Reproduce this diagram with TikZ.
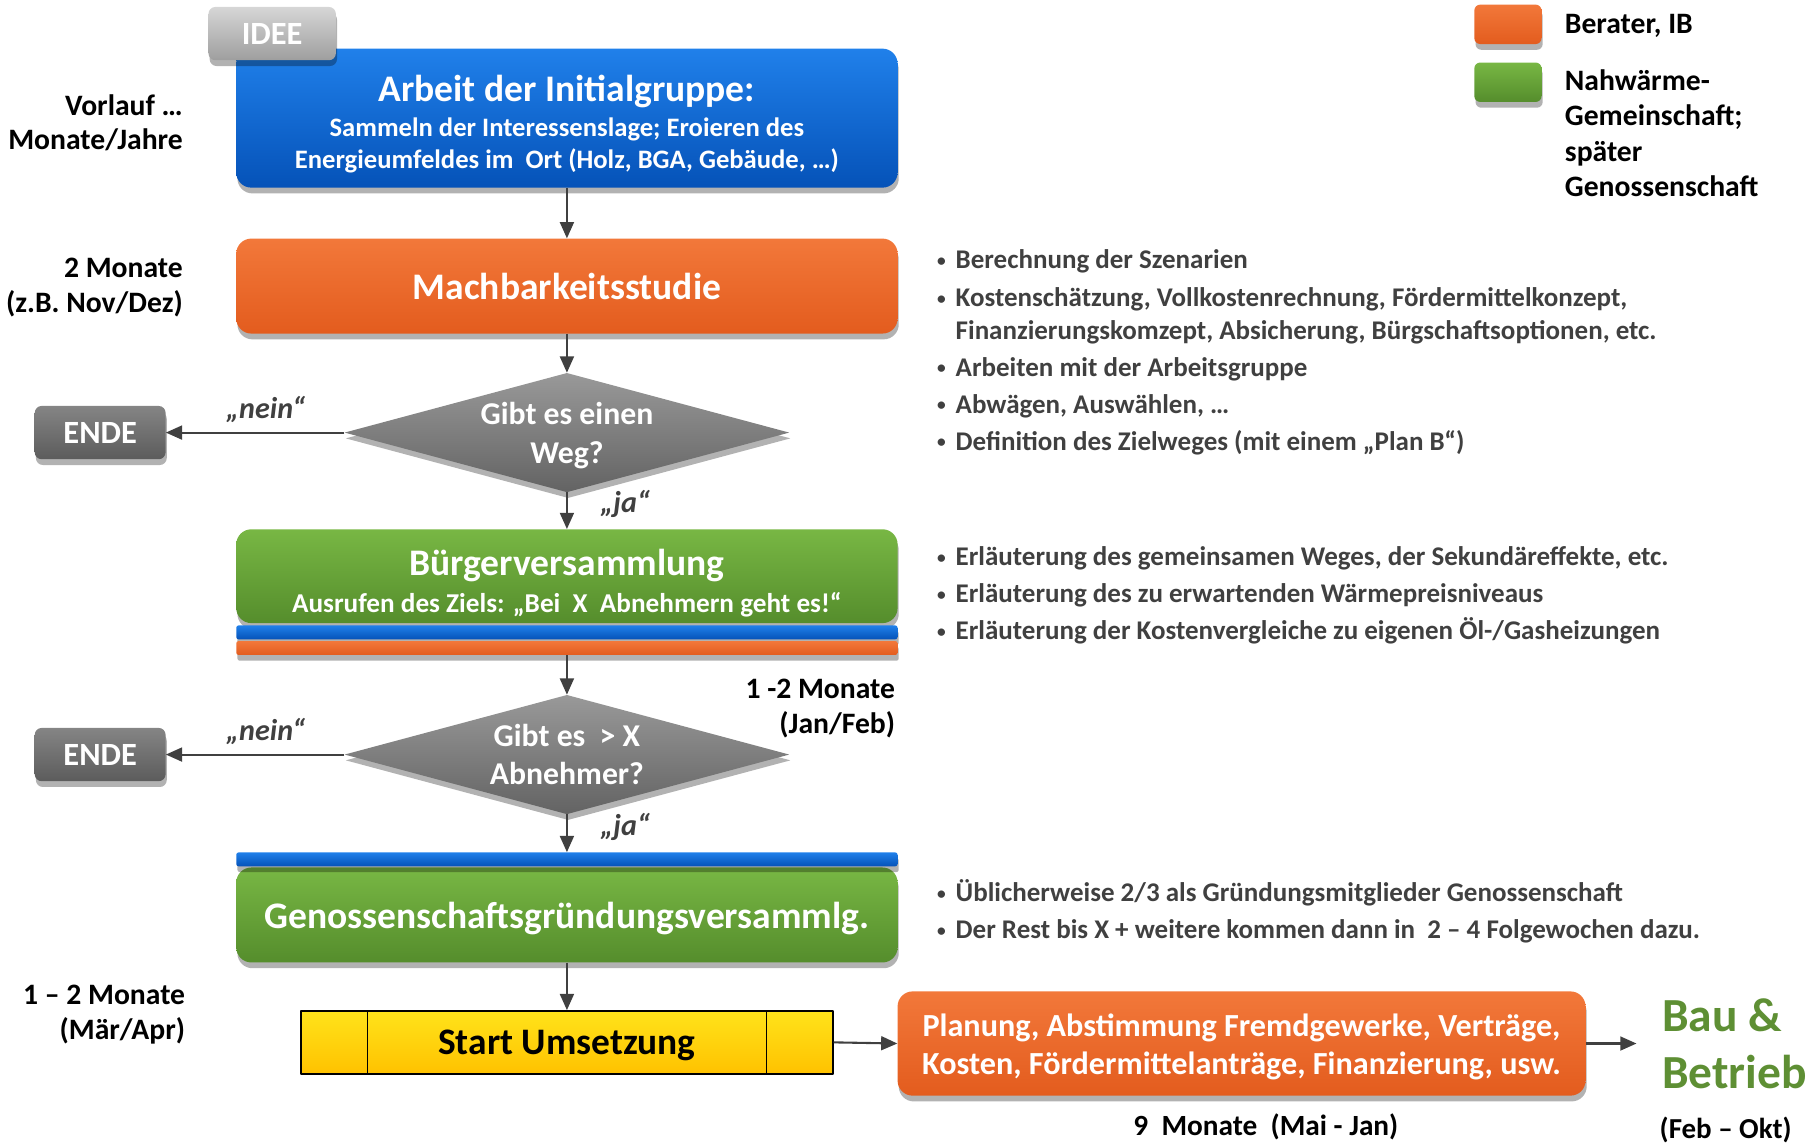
\documentclass[tikz,border=0pt]{standalone}
\usepackage{fontspec}
\setmainfont{Carlito}
\usetikzlibrary{positioning,shapes.geometric,arrows.meta,shadows}
\definecolor{blauhell}{HTML}{2080EA}
\definecolor{blaudunkel}{HTML}{0552B8}
\definecolor{orangehell}{HTML}{F2783A}
\definecolor{orangedunkel}{HTML}{E35C1E}
\definecolor{gruenhell}{HTML}{78B744}
\definecolor{gruendunkel}{HTML}{558D2C}
\definecolor{grauhell}{HTML}{999999}
\definecolor{graudunkel}{HTML}{636363}
\definecolor{gelbhell}{HTML}{FFE31A}
\definecolor{gelbdunkel}{HTML}{FFC200}
\definecolor{pfeilgrau}{HTML}{404040}
\definecolor{textgrau}{HTML}{404040}
\definecolor{baugruen}{HTML}{5E8F34}
\newcommand\pkt{\makebox[17pt][l]{\hspace{1pt}\raisebox{2pt}{\fontsize{15}{15}\selectfont\textbullet}}}

\begin{document}
\begin{tikzpicture}[x=1pt, y=-1pt, line join=round,
    fs/.style 2 args={font=\fontsize{#1}{#2}\selectfont\bfseries},
    schatten/.style={drop shadow={shadow xshift=1pt, shadow yshift=-5pt, opacity=.3, fill=black}},
    box/.style={rounded corners=13pt, text=white, align=center, inner sep=0pt,
      minimum width=571pt, schatten},
    blaubox/.style={box, top color=blauhell, bottom color=blaudunkel},
    orangebox/.style={box, top color=orangehell, bottom color=orangedunkel},
    gruenbox/.style={box, top color=gruenhell, bottom color=gruendunkel},
    raute/.style={diamond, aspect=3.73, inner sep=0pt, minimum width=384pt, minimum height=103pt,
      top color=grauhell, bottom color=graudunkel, text=white, align=center, fs={27.4}{33.5}, schatten},
    endebox/.style={rounded corners=6pt, minimum width=113pt, minimum height=46pt, inner sep=0pt,
      top color=black!48, bottom color=black!64, text=white, fs={28}{30}, schatten},
    streifen/.style={rounded corners=2pt, minimum width=571pt, minimum height=12pt, inner sep=0pt, schatten},
    legende/.style={rounded corners=5pt, minimum width=58pt, minimum height=34pt, inner sep=0pt, schatten},
    zeit/.style={align=right, fs={25.6}{30}, inner sep=0pt},
    liste/.style={align=left, fs={23.3}{28}, text=textgrau, inner sep=0pt},
    lab/.style={font=\fontsize{26}{28}\selectfont\bfseries\itshape, text=textgrau, inner sep=2pt},
    pfeil/.style={draw=pfeilgrau, line width=1.8pt, -{Triangle[length=14pt,width=12pt]}}]
  \useasboundingbox (0,0) rectangle (1568,989);

  % Hauptspalte
  \node[blaubox, minimum height=120pt, fs={23}{28}] (arbeit) at (489.5,102)
    {\rule{0pt}{33pt}{\fontsize{32.4}{34}\selectfont Arbeit der Initialgruppe:}\\[2pt]
     Sammeln der Interessenslage; Eroieren des\\
     Energieumfeldes im~ Ort (Holz, BGA, Gebäude, …)};
  \node[rounded corners=6pt, minimum width=110pt, minimum height=46pt, inner sep=0pt,
    top color=black!16, bottom color=black!38, text=white, fs={28}{30}, schatten] (idee) at (235,29) {IDEE};
  \node[orangebox, minimum height=82pt, fs={32.4}{36}] (mach) at (489.5,247) {Machbarkeitsstudie};
  \node[raute] (weg) at (489.5,373.5) {\rule{0pt}{24pt}Gibt es einen\\Weg?};
  \node[endebox] (ende1) at (86.5,373.5) {ENDE};
  \node[gruenbox, minimum height=81pt, fs={23.5}{29}] (buerger) at (489.5,497.5)
    {\rule{0pt}{34pt}{\fontsize{32.4}{34}\selectfont Bürgerversammlung}\\[3pt]
     Ausrufen des Ziels: „Bei~ X~ Abnehmern geht es!“};
  \node[streifen, top color=blauhell, bottom color=blaudunkel] (blau1) at (489.5,546) {};
  \node[streifen, top color=orangehell, bottom color=orangedunkel] (orange1) at (489.5,559.5) {};
  \node[raute] (abnehmer) at (489.5,651.5) {Gibt es~ > X\\Abnehmer?};
  \node[endebox] (ende2) at (86.5,651.5) {ENDE};
  \node[gruenbox, minimum height=82pt, fs={32.4}{36}, text depth=0pt] (gruendung) at (489.5,790)
    {Genossenschaftsgründungsversammlg.};
  \node[streifen, top color=blauhell, bottom color=blaudunkel] (blau2) at (489.5,742) {};
  \node[draw=black, line width=1.6pt, minimum width=459pt, minimum height=54pt, inner sep=0pt,
    top color=gelbhell, bottom color=gelbdunkel, fs={32.3}{36}, text depth=0pt] (start) at (489.5,900) {Start Umsetzung};
  \draw[line width=1pt] ([xshift=58pt]start.north west) -- ([xshift=58pt]start.south west)
    ([xshift=-58pt]start.north east) -- ([xshift=-58pt]start.south east);
  \node[orangebox, minimum width=594pt, minimum height=90pt, fs={27.8}{33}] (planung) at (1072,901)
    {\rule{0pt}{26pt}Planung, Abstimmung Fremdgewerke, Verträge,\\Kosten, Fördermittelanträge, Finanzierung, usw.};
  \node[anchor=west, align=left, inner xsep=22pt, inner ysep=0pt, text=baugruen, fs={41}{49}] (bau) at (1413,901)
    {Bau \&\\Betrieb};
  \node[fs={25}{28}] (feb) at (1490,976) {(Feb – Okt)};
  \node[fs={25.3}{28}] (neun) at (1093,973) {9~ Monate~ (Mai - Jan)};

  % Verbindungen
  \draw[pfeil] (arbeit.south) -- (mach.north);
  \draw[pfeil] (mach.south) -- (weg.north);
  \draw[pfeil] (weg.west) -- node[above=6pt, pos=.44, lab] {„nein“} (ende1.east);
  \draw[pfeil] (weg.south) -- node[right=26pt, pos=.32, lab] {„ja“} (buerger.north);
  \draw[pfeil] (orange1.south) -- (abnehmer.north);
  \draw[pfeil] (abnehmer.west) -- node[above=6pt, pos=.44, lab] {„nein“} (ende2.east);
  \draw[pfeil] (abnehmer.south) -- node[right=26pt, pos=.32, lab] {„ja“} (blau2.north);
  \draw[pfeil] (gruendung.south) -- (start.north);
  \draw[pfeil] (start.east) -- (planung.west);
  \draw[pfeil] (planung.east) -- (bau.west);

  % Zeitangaben
  \node[zeit, anchor=east] (vorlauf) at (158,106) {Vorlauf …\\Monate/Jahre};
  \node[zeit, anchor=east] (zwei) at (158,248) {2 Monate\\(z.B. Nov/Dez)};
  \node[zeit, anchor=east] (einszwei) at (773,612) {1 -2 Monate\\(Jan/Feb)};
  \node[zeit, anchor=east] (maerz) at (160,876) {1 – 2 Monate\\(Mär/Apr)};

  % Legende
  \node[legende, top color=orangehell, bottom color=orangedunkel] (legorange) at (1302,21) {};
  \node[legende, top color=gruenhell, bottom color=gruendunkel] (leggruen) at (1302,71) {};
  \node[fs={25.6}{30}, anchor=west, inner sep=0pt] (berater) at (1351,22) {Berater, IB};
  \node[fs={25.6}{30.7}, anchor=west, align=left, inner sep=0pt] (nahwaerme) at (1351,115)
    {Nahwärme-\\Gemeinschaft;\\später\\Genossenschaft};

  % Erläuterungen
  \node[liste, anchor=west] (liste1) at (808,304)
    {\pkt Berechnung der Szenarien\\[5pt]
     \pkt Kostenschätzung, Vollkostenrechnung, Fördermittelkonzept,\\
     \hspace*{17pt}Finanzierungskomzept, Absicherung, Bürgschaftsoptionen, etc.\\[4pt]
     \pkt Arbeiten mit der Arbeitsgruppe\\[4pt]
     \pkt Abwägen, Auswählen, …\\[4pt]
     \pkt Definition des Zielweges (mit einem „Plan B“)};
  \node[liste, anchor=west] (liste2) at (808,514)
    {\pkt Erläuterung des gemeinsamen Weges, der Sekundäreffekte, etc.\\[4pt]
     \pkt Erläuterung des zu erwartenden Wärmepreisniveaus\\[4pt]
     \pkt Erläuterung der Kostenvergleiche zu eigenen Öl-/Gasheizungen};
  \node[liste, anchor=west] (liste3) at (808,787)
    {\pkt Üblicherweise 2/3 als Gründungsmitglieder Genossenschaft\\[4pt]
     \pkt Der Rest bis X + weitere kommen dann in~ 2 – 4 Folgewochen dazu.};
\end{tikzpicture}
\end{document}
